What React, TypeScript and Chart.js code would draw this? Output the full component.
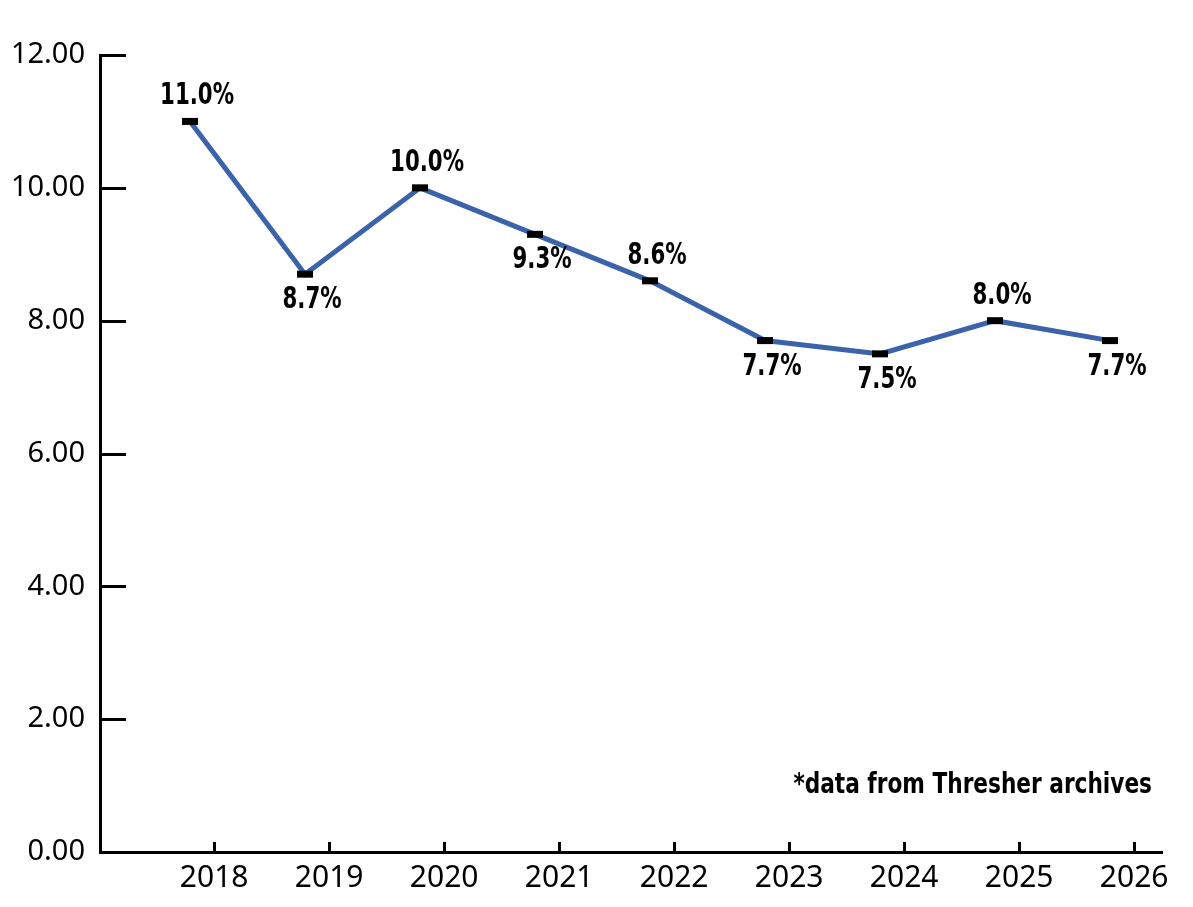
import React, { useEffect, useRef } from 'react';
import { Chart, registerables } from 'chart.js';

Chart.register(...registerables);

const categories = ['2018', '2019', '2020', '2021', '2022', '2023', '2024', '2025', '2026'];
const rateValues = [11.0, 8.7, 10.0, 9.3, 8.6, 7.7, 7.5, 8.0, 7.7];
const labelPlacement = ['above', 'below', 'above', 'below', 'above', 'below', 'below', 'above', 'below'];
const yTickStep = 2;
const yMax = 12;
const footnote = '*data from Thresher archives';

const CONDENSED = '"Liberation Sans Narrow", "DejaVu Sans Condensed", Roboto, sans-serif';
const REGULAR = '"Noto Sans", "Open Sans", sans-serif';
const LINE_COLOR = '#3A63AA';
const TICK_SHIFT = 0.21;

function drawNarrow(ctx: any, text: string, x: number, y: number, sx: number) {
  ctx.save();
  ctx.translate(x, y);
  ctx.scale(sx, 1);
  ctx.fillText(text, 0, 0);
  ctx.restore();
}

const decorPlugin = {
  id: 'decor',
  afterDatasetsDraw(chart: any) {
    const { ctx, chartArea, scales } = chart;
    const x = scales.x;
    const y = scales.y;
    ctx.save();
    ctx.strokeStyle = '#000';
    ctx.lineWidth = 3;
    ctx.lineCap = 'butt';
    y.ticks.forEach((t: any) => {
      const py = Math.round(y.getPixelForValue(t.value)) + 0.5;
      ctx.beginPath();
      ctx.moveTo(chartArea.left, py);
      ctx.lineTo(chartArea.left + 26, py);
      ctx.stroke();
    });
    x.ticks.forEach((t: any) => {
      const px = Math.round(x.getPixelForValue(t.value)) + 0.5;
      ctx.beginPath();
      ctx.moveTo(px, chartArea.bottom);
      ctx.lineTo(px, chartArea.bottom - 10);
      ctx.stroke();
    });

    const meta = chart.getDatasetMeta(0);
    ctx.fillStyle = '#000';
    ctx.font = `bold 30px ${CONDENSED}`;
    ctx.textAlign = 'center';
    ctx.textBaseline = 'alphabetic';
    meta.data.forEach((pt: any, i: number) => {
      const text = rateValues[i].toFixed(1) + '%';
      const ty = labelPlacement[i] === 'above' ? pt.y - 17 : pt.y + 34;
      drawNarrow(ctx, text, pt.x + 7, ty, 0.79);
    });

    ctx.font = `bold 28px ${CONDENSED}`;
    ctx.textAlign = 'right';
    drawNarrow(ctx, footnote, 1152, 793, 0.86);
    ctx.restore();
  },
};

export default function App() {
  const canvasRef = useRef<HTMLCanvasElement | null>(null);

  useEffect(() => {
    if (!canvasRef.current) return;
    const chart = new Chart(canvasRef.current, {
      type: 'line',
      data: {
        datasets: [
          {
            data: categories.map((c, i) => ({ x: Number(c), y: rateValues[i] })),
            borderColor: LINE_COLOR,
            borderWidth: 5,
            tension: 0,
            pointStyle: 'line',
            pointRadius: 8,
            pointBorderWidth: 7,
            pointBorderColor: '#000',
            pointBackgroundColor: '#000',
            pointHoverRadius: 8,
          },
        ],
      },
      options: {
        animation: false,
        responsive: false,
        devicePixelRatio: 1,
        layout: { padding: { top: 55, right: 31, left: 0, bottom: 0 } },
        plugins: { legend: { display: false }, tooltip: { enabled: false } },
        scales: {
          x: {
            type: 'linear',
            bounds: 'data',
            min: 2017.217,
            max: 2026.452,
            afterBuildTicks: (scale: any) => {
              scale.ticks = categories.map((c) => ({ value: Number(c) + TICK_SHIFT }));
            },
            afterFit: (scale: any) => {
              scale.height = 55;
            },
            grid: { display: false, drawTicks: false },
            border: { display: true, color: '#000', width: 3 },
            ticks: {
              autoSkip: false,
              maxRotation: 0,
              padding: 8,
              color: '#000',
              font: { family: REGULAR, size: 30 },
              callback: (v: any) => String(Math.round(Number(v))),
            },
          },
          y: {
            type: 'linear',
            min: 0,
            max: yMax,
            afterFit: (scale: any) => {
              scale.width = 100;
            },
            grid: { display: false, drawTicks: false },
            border: { display: true, color: '#000', width: 3 },
            ticks: {
              stepSize: yTickStep,
              padding: 15,
              color: '#000',
              font: { family: REGULAR, size: 29 },
              callback: (v: any) => Number(v).toFixed(2),
            },
          },
        },
      },
      plugins: [decorPlugin],
    } as any);
    return () => chart.destroy();
  }, []);

  return (
    <div style={{ position: 'fixed', left: 0, top: 0, width: 1193, height: 907, background: '#fff' }}>
      <canvas ref={canvasRef} width={1193} height={907} />
    </div>
  );
}
